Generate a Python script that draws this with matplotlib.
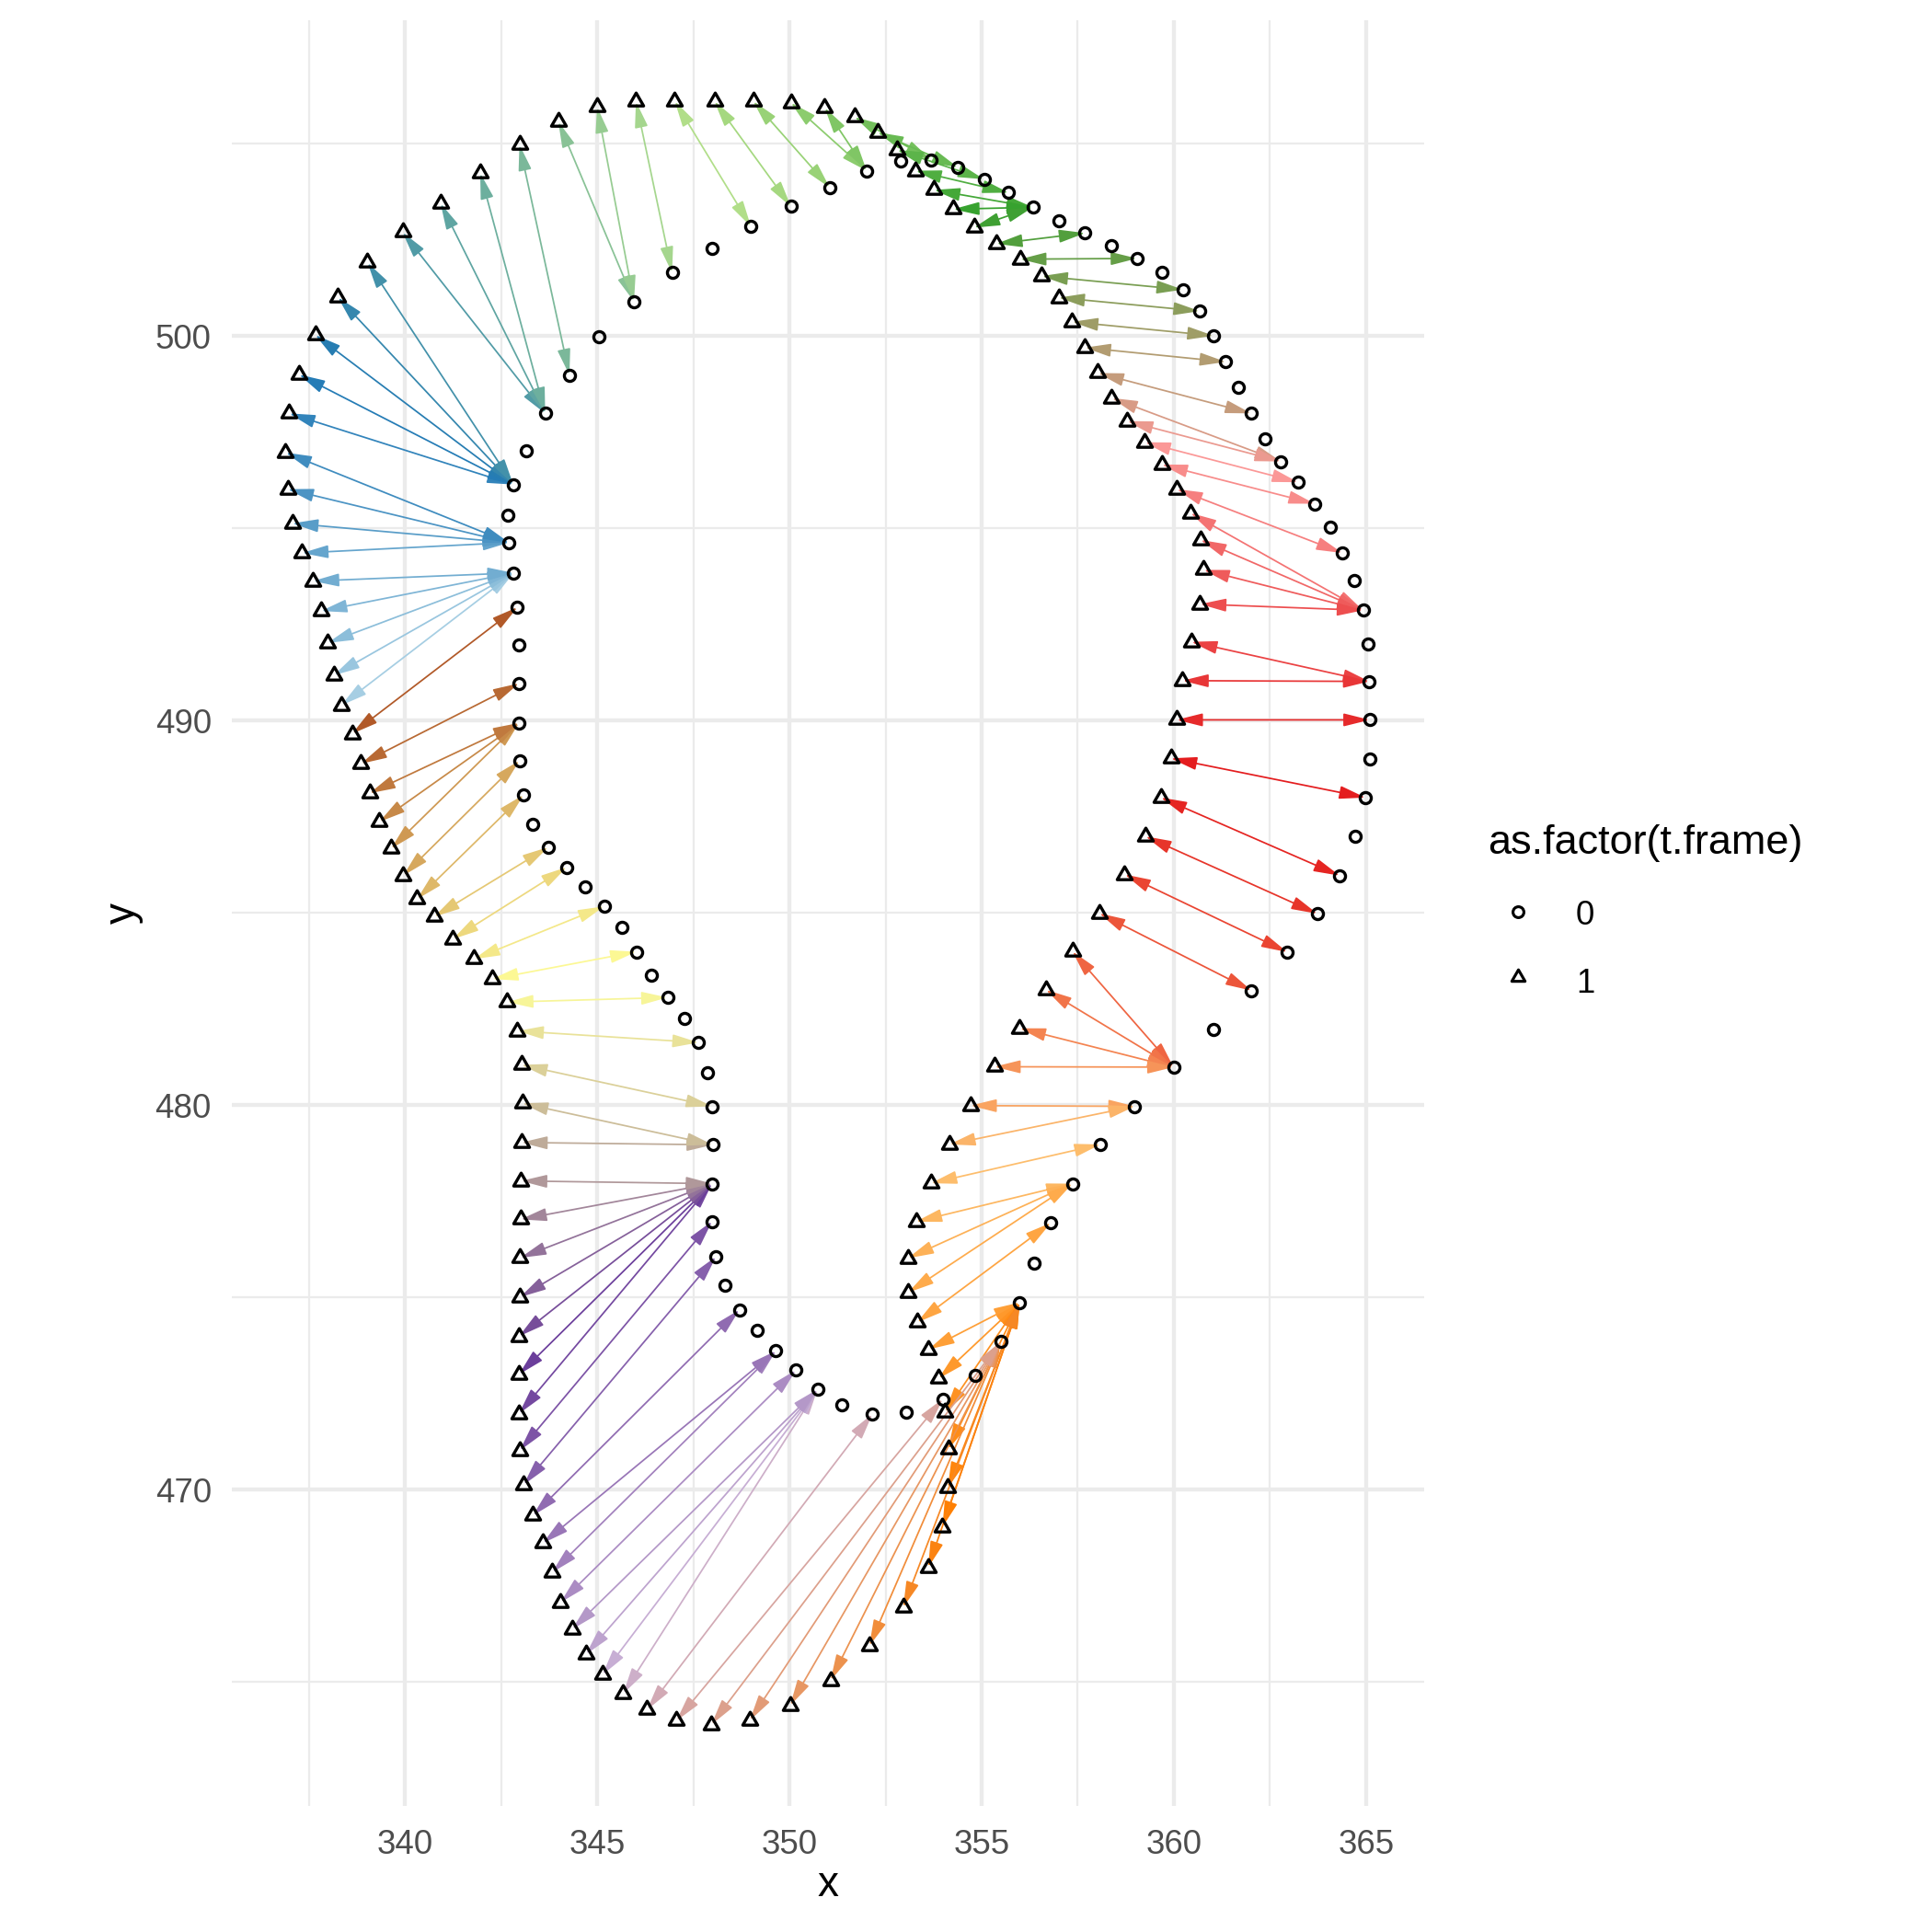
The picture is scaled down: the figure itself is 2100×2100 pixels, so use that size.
import numpy as np
import matplotlib
matplotlib.use("Agg")
import matplotlib.pyplot as plt
from matplotlib.patches import FancyArrowPatch, ArrowStyle
from matplotlib.path import Path
from matplotlib.colors import to_rgb

plt.rcParams['font.family'] = ['Liberation Sans', 'DejaVu Sans']

# ---------------- data ----------------
# frame 1 points (triangles), in contour order
tri_x = [338.35, 338.15, 337.99, 337.82, 337.61, 337.33, 337.07, 336.95, 336.90, 336.99,
         337.25, 337.67, 338.26, 339.03, 339.94, 340.93, 341.96, 342.98, 343.99, 345.00,
         346.01, 347.02, 348.05, 349.06, 350.04, 350.92, 351.69, 352.29, 352.80, 353.28,
         353.76, 354.26, 354.80, 355.38, 356.00, 356.56, 357.00, 357.35, 357.68, 358.02,
         358.38, 358.78, 359.24, 359.68, 360.07, 360.43, 360.69, 360.77, 360.68, 360.45,
         360.22, 360.07, 359.92, 359.66, 359.26, 358.72, 358.06, 357.36, 356.67, 355.99,
         355.33, 354.71, 354.16, 353.68, 353.29, 353.08, 353.09, 353.32, 353.62, 353.88,
         354.05, 354.13, 354.12, 353.98, 353.61, 352.96, 352.08, 351.07, 350.02, 348.97,
         347.97, 347.06, 346.30, 345.68, 345.14, 344.71, 344.35, 344.05, 343.83, 343.59,
         343.33, 343.09, 342.99, 342.97, 342.97, 342.97, 343.00, 343.00, 343.01, 343.02,
         343.03, 343.05, 343.03, 342.93, 342.66, 342.27, 341.80, 341.25, 340.76, 340.32,
         339.96, 339.64, 339.34, 339.08, 338.86, 338.63]
tri_y = [490.40, 491.18, 492.02, 492.85, 493.63, 494.36, 495.13, 496.02, 496.97, 497.99,
         499.00, 500.03, 501.01, 501.91, 502.70, 503.45, 504.24, 504.98, 505.58, 505.96,
         506.10, 506.11, 506.11, 506.11, 506.07, 505.94, 505.70, 505.30, 504.84, 504.30,
         503.80, 503.30, 502.82, 502.40, 502.00, 501.56, 501.00, 500.37, 499.70, 499.04,
         498.39, 497.79, 497.24, 496.66, 496.02, 495.40, 494.70, 493.92, 493.03, 492.05,
         491.04, 490.02, 489.02, 488.00, 486.99, 486.00, 484.99, 484.00, 483.00, 482.00,
         481.00, 479.99, 478.98, 477.97, 476.97, 476.02, 475.13, 474.35, 473.65, 472.89,
         472.01, 471.05, 470.05, 469.03, 467.98, 466.94, 465.94, 465.04, 464.39, 464.00,
         463.89, 463.99, 464.28, 464.70, 465.19, 465.72, 466.37, 467.07, 467.85, 468.61,
         469.33, 470.13, 471.02, 471.98, 473.00, 473.99, 475.01, 476.03, 477.03, 478.03,
         479.03, 480.05, 481.05, 481.93, 482.68, 483.28, 483.80, 484.32, 484.90, 485.36,
         485.97, 486.67, 487.37, 488.11, 488.88, 489.66]

# frame 0 points (circles)
circ_x = [342.97, 342.97, 342.93, 342.83, 342.71, 342.67, 342.82, 343.16, 343.65, 344.28,
          345.05, 345.96, 346.95, 347.98, 349.00, 350.04, 351.05, 352.01, 352.90, 353.69,
          354.38, 355.06, 355.70, 356.33, 357.01, 357.69, 358.37, 359.04, 359.68, 360.23,
          360.67, 361.03, 361.35, 361.68, 362.01, 362.37, 362.78, 363.23, 363.66, 364.06,
          364.38, 364.70, 364.92, 365.04, 365.08, 365.09, 365.09, 364.98, 364.72, 364.31,
          363.73, 362.95, 362.02, 361.03, 359.99, 358.98, 358.09, 357.36, 356.80, 356.37,
          355.99, 355.50, 354.83, 353.99, 353.05, 352.16, 351.36, 350.73, 350.17, 349.65,
          349.16, 348.70, 348.33, 348.09, 347.99, 347.99, 348.01, 347.99, 347.88, 347.64,
          347.27, 346.83, 346.40, 346.02, 345.64, 345.18, 344.70, 344.21, 343.73, 343.33,
          343.09, 342.98, 342.97]
circ_y = [490.97, 491.98, 492.95, 493.84, 494.63, 495.34, 496.14, 497.01, 497.99, 498.99,
          499.99, 500.90, 501.65, 502.29, 502.85, 503.37, 503.86, 504.30, 504.56, 504.58,
          504.39, 504.08, 503.73, 503.35, 503.01, 502.68, 502.36, 502.02, 501.67, 501.21,
          500.65, 500.01, 499.33, 498.67, 497.99, 497.33, 496.74, 496.20, 495.64, 495.02,
          494.36, 493.65, 492.87, 491.99, 491.02, 490.02, 489.00, 488.00, 487.00, 485.97,
          484.98, 483.98, 482.98, 481.97, 480.99, 479.97, 478.98, 477.96, 476.94, 475.90,
          474.87, 473.85, 472.98, 472.36, 472.01, 471.97, 472.20, 472.61, 473.11, 473.61,
          474.14, 474.68, 475.32, 476.06, 476.98, 477.96, 478.97, 479.97, 480.85, 481.63,
          482.25, 482.80, 483.38, 483.99, 484.62, 485.17, 485.67, 486.19, 486.71, 487.31,
          488.07, 488.96, 489.94]

# for each triangle: 1-based index of the matched circle
match = [4, 4, 4, 4, 4, 5, 5, 5, 5, 7,
         7, 7, 7, 7, 9, 9, 9, 10, 12, 12,
         13, 15, 16, 17, 18, 18, 20, 21, 22, 23,
         24, 24, 24, 26, 28, 30, 31, 32, 33, 35,
         37, 37, 38, 39, 41, 43, 43, 43, 43, 45,
         45, 46, 48, 50, 51, 52, 53, 55, 55, 55,
         55, 56, 56, 57, 58, 58, 58, 59, 61, 61,
         61, 61, 61, 61, 61, 61, 62, 62, 62, 62,
         62, 64, 66, 68, 68, 68, 68, 69, 70, 70,
         72, 74, 75, 76, 76, 76, 76, 76, 76, 76,
         77, 77, 78, 80, 82, 84, 86, 88, 89, 91,
         92, 93, 93, 93, 1, 3]

x_breaks = [340, 345, 350, 355, 360, 365]
y_breaks = [470, 480, 490, 500]
legend_title = "as.factor(t.frame)"
legend_labels = ["0", "1"]

paired = ["#A6CEE3", "#1F78B4", "#B2DF8A", "#33A02C", "#FB9A99", "#E31A1C",
          "#FDBF6F", "#FF7F00", "#CAB2D6", "#6A3D9A", "#FFFF99", "#B15928"]


def color_ramp(cols, n):
    rgb = np.array([to_rgb(c) for c in cols])
    pos = np.linspace(0, 1, len(cols))
    t = np.linspace(0, 1, n)
    return np.stack([np.interp(t, pos, rgb[:, k]) for k in range(3)], axis=1)


# ---------------- layout ----------------
PX = 2100
fig = plt.figure(figsize=(7, 7), dpi=300)

all_x = tri_x + circ_x
all_y = tri_y + circ_y
rx = max(all_x) - min(all_x)
ry = max(all_y) - min(all_y)
xlim = (min(all_x) - 0.05 * rx, max(all_x) + 0.05 * rx)
ylim = (min(all_y) - 0.05 * ry, max(all_y) + 0.05 * ry)

top_px, bot_px, cen_px = 21.7, 1962.9, 899.6
scale = (bot_px - top_px) / (ylim[1] - ylim[0])
w_px = (xlim[1] - xlim[0]) * scale
left_px = cen_px - w_px / 2
ax = fig.add_axes([left_px / PX, 1 - bot_px / PX, w_px / PX, (bot_px - top_px) / PX])
ax.set_xlim(*xlim)
ax.set_ylim(*ylim)

ax.set_xticks(x_breaks)
ax.set_yticks(y_breaks)
ax.set_xticks([b + 2.5 for b in x_breaks[:-1]] + [x_breaks[0] - 2.5], minor=True)
ax.set_yticks([b + 5 for b in y_breaks[:-1]] + [y_breaks[0] - 5, y_breaks[-1] + 5], minor=True)
ax.set_xticklabels([str(v) for v in x_breaks])
ax.set_yticklabels([str(v) for v in y_breaks])
ax.grid(which='major', color='#EBEBEB', lw=1.05)
ax.grid(which='minor', color='#EBEBEB', lw=0.53)
ax.set_axisbelow(True)
ax.tick_params(which='both', length=0)
ax.tick_params(axis='x', labelsize=8.8, labelcolor='#4D4D4D', pad=6.1)
ax.tick_params(axis='y', labelsize=8.8, labelcolor='#4D4D4D', pad=5.2)
for s in ax.spines.values():
    s.set_visible(False)

# ---------------- arrows ----------------
cols = color_ramp(paired, len(tri_x))
style = ArrowStyle('<|-|>', head_length=5.8, head_width=1.45)
for i, (tx, ty) in enumerate(zip(tri_x, tri_y)):
    j = match[i] - 1
    arr = FancyArrowPatch((circ_x[j], circ_y[j]), (tx, ty), arrowstyle=style,
                          mutation_scale=1, color=cols[i], lw=0.42,
                          shrinkA=0, shrinkB=0, zorder=2)
    ax.add_patch(arr)

# ---------------- points ----------------
tri_marker = Path([(0, 1), (-0.8660254, -0.5), (0.8660254, -0.5), (0, 1)],
                  [Path.MOVETO, Path.LINETO, Path.LINETO, Path.CLOSEPOLY])
ax.plot(circ_x, circ_y, ls='none', marker='o', ms=2.9, mfc='none', mec='black',
        mew=0.8, zorder=3)
ax.plot(tri_x, tri_y, ls='none', marker=tri_marker, ms=4.5, mfc='none', mec='black',
        mew=0.8, zorder=3)

# ---------------- overlay: axis titles & legend ----------------
lax = fig.add_axes([0, 0, 1, 1])
lax.set_xlim(0, PX)
lax.set_ylim(PX, 0)
lax.axis('off')
lax.patch.set_alpha(0)

lax.text(cen_px, 2049, "x", fontsize=11, ha='center', va='center', color='black')
lax.text(134, (top_px + bot_px) / 2, "y", fontsize=11, ha='center', va='center',
         rotation=90, color='black')

lax.text(1617, 928, legend_title, fontsize=10.8, ha='left', va='baseline', color='black')
lax.plot([1650], [991], ls='none', marker='o', ms=2.84, mfc='none', mec='black', mew=0.75)
lax.plot([1650], [1062], ls='none', marker=tri_marker, ms=4.0, mfc='none', mec='black',
         mew=0.75)
lax.text(1713, 1005, legend_labels[0], fontsize=8.8, ha='left', va='baseline', color='black')
lax.text(1713, 1079, legend_labels[1], fontsize=8.8, ha='left', va='baseline', color='black')

fig.savefig("out.png", dpi=300, facecolor='white')
